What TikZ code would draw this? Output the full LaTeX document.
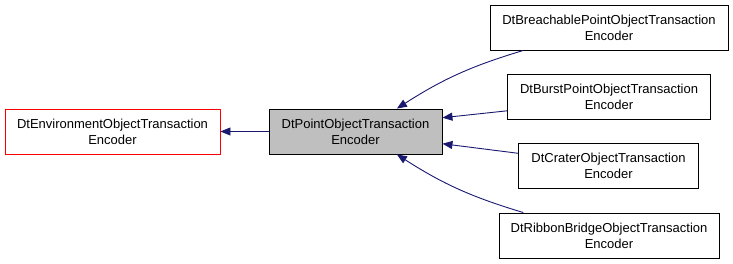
\documentclass[tikz,border=0pt]{standalone}
\usepackage{fontspec}
\setmainfont{Liberation Sans}
\usetikzlibrary{arrows.meta}
\definecolor{edgeblue}{HTML}{191970}
\tikzset{
  cls/.style={draw=black, line width=0.9pt, fill=white, align=center, inner sep=0pt,
    minimum height=45pt, font=\fontsize{13}{16}\selectfont},
  clsred/.style={cls, draw=red},
  clscur/.style={cls, fill=gray!50},
  inh/.style={draw=edgeblue, line width=0.9pt, -{Triangle[length=10pt,width=8pt]}}
}
\begin{document}
\begin{tikzpicture}[x=1pt, y=1pt]
  \useasboundingbox (0,0) rectangle (733,264);
  \node[clsred, minimum width=215pt] (env) at (112.5,132.5) {DtEnvironmentObjectTransaction\\Encoder};
  \node[clscur, minimum width=173pt] (pnt) at (355.5,132.5) {DtPointObjectTransaction\\Encoder};

  \node[cls, minimum width=238pt] (brch) at (609,236.5) {DtBreachablePointObjectTransaction\\Encoder};
  \node[cls, minimum width=203pt] (burst) at (609,167.5) {DtBurstPointObjectTransaction\\Encoder};
  \node[cls, minimum width=180pt] (crater) at (608.5,98) {DtCraterObjectTransaction\\Encoder};
  \node[cls, minimum width=220pt] (ribbon) at (609,28.5) {DtRibbonBridgeObjectTransaction\\Encoder};

  \draw[inh] (pnt.west) -- (env.east);
  \draw[inh] (brch.-165.5) to[bend right=8] (pnt.29);
  \draw[inh] (burst.188.7) -- (pnt.9.5);
  \draw[inh] (crater.172.4) -- (pnt.-8.2);
  \draw[inh] (ribbon.165.5) to[bend left=8] (pnt.-29);
\end{tikzpicture}
\end{document}
